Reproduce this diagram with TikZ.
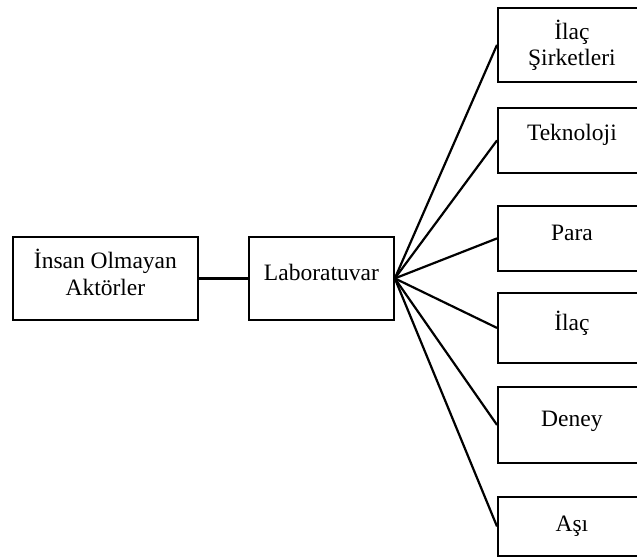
\documentclass[tikz,border=0pt]{standalone}
\usepackage{fontspec}
\setmainfont{Liberation Serif}
\begin{document}
\begin{tikzpicture}[x=1pt,y=-1pt,
  box/.style={draw,line width=1.8pt,rectangle,inner sep=0pt,anchor=north west},
  side/.style={box,minimum width=148pt},
  txt/.style={font=\fontsize{23.5}{28}\selectfont,inner sep=0pt,anchor=base},
  link/.style={line width=2.2pt}]
\useasboundingbox (0,0) rectangle (637,557);
\clip (0,0) rectangle (637,557);
% left chain
\node[box,minimum width=185pt,minimum height=83pt] (ins) at (12,236) {};
\node[box,minimum width=145pt,minimum height=83pt] (lab) at (248,236) {};
% right column
\node[side,minimum height=74pt] (sirket) at (497,7) {};
\node[side,minimum height=65pt] (tekno) at (497,107) {};
\node[side,minimum height=65pt] (para) at (497,205) {};
\node[side,minimum height=70pt] (ilac) at (497,292) {};
\node[side,minimum height=76pt] (deney) at (497,386) {};
\node[side,minimum height=59pt] (asi) at (497,496) {};
% labels, placed by baseline
\node[txt] (ins-a) at ([yshift=9.5pt]ins.center) {İnsan Olmayan};
\node[txt] (ins-b) at ([yshift=-17pt]ins.center) {Aktörler};
\node[txt] (lab-t) at ([yshift=-2pt]lab.center) {Laboratuvar};
\node[txt] (sirket-a) at ([yshift=5pt]sirket.center) {İlaç};
\node[txt] (sirket-b) at ([yshift=-21pt]sirket.center) {Şirketleri};
\node[txt] (tekno-t) at (tekno.center) {Teknoloji};
\node[txt] (para-t) at ([yshift=-2pt]para.center) {Para};
\node[txt] (ilac-t) at ([yshift=-3pt]ilac.center) {İlaç};
\node[txt] (deney-t) at ([yshift=-2pt]deney.center) {Deney};
\node[txt] (asi-t) at ([yshift=-5pt]asi.center) {Aşı};
% connectors
\draw[link] (ins.east) -- (lab.west);
\foreach \t in {sirket,tekno,para,ilac,deney,asi}
  \draw[link] (lab.east) -- (\t.west);
\end{tikzpicture}
\end{document}
